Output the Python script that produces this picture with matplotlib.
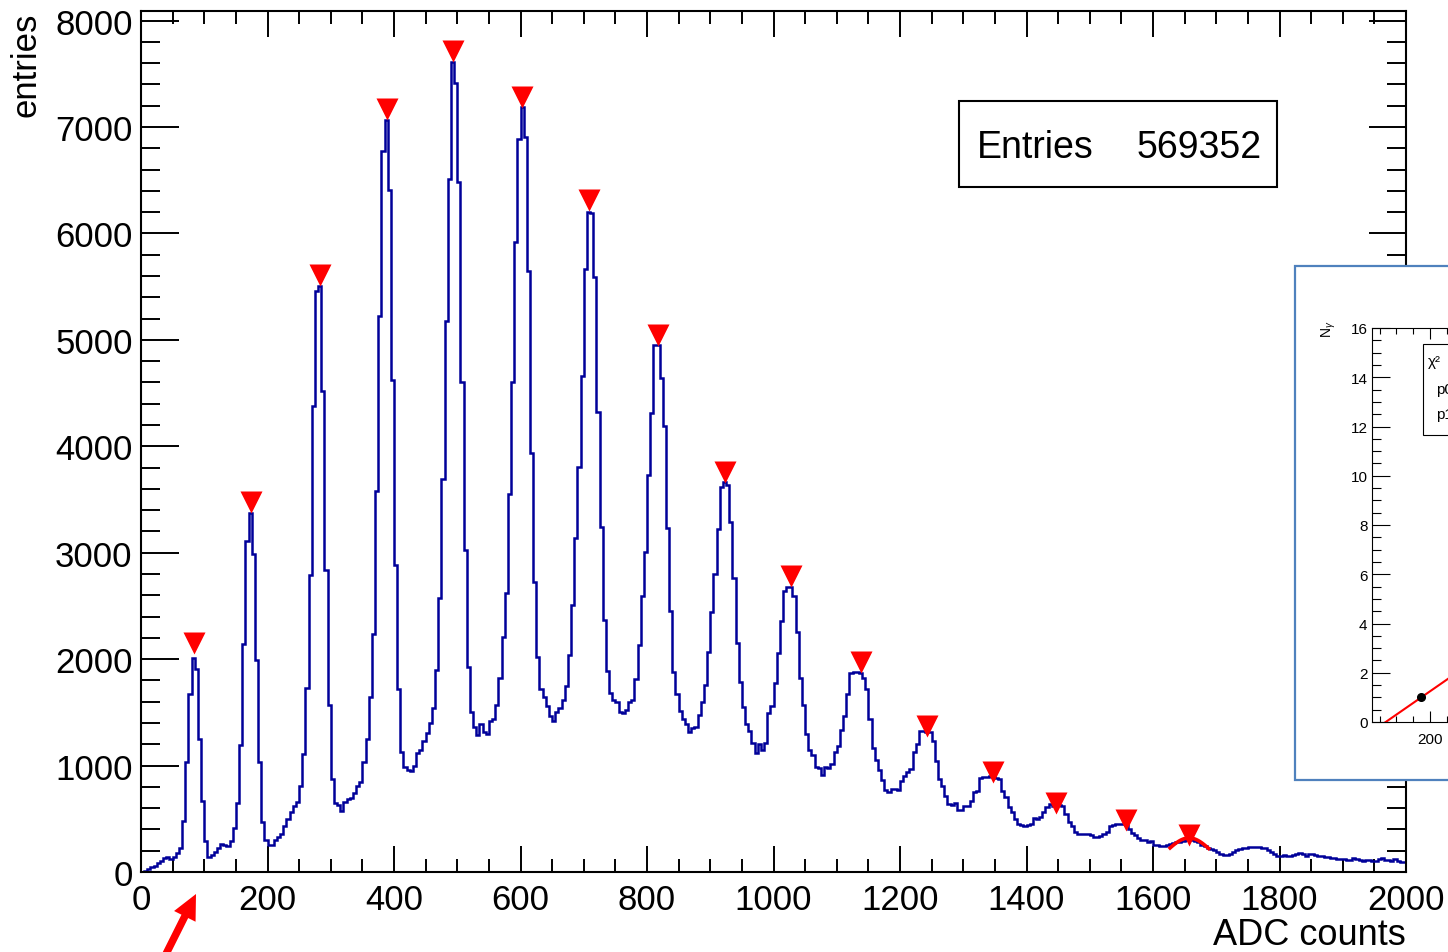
import numpy as np
import matplotlib
matplotlib.use("Agg")
import matplotlib.pyplot as plt
from matplotlib.patches import Rectangle, FancyArrow
from matplotlib.ticker import MultipleLocator, FixedLocator
from matplotlib.transforms import IdentityTransform

plt.rcParams["font.family"] = ["Liberation Sans", "DejaVu Sans"]
plt.rcParams["mathtext.fontset"] = "custom"
plt.rcParams["mathtext.rm"] = "Liberation Sans"
plt.rcParams["mathtext.it"] = "Liberation Sans:italic"

# ──────────────────────────────────────────────
# data
# ──────────────────────────────────────────────
BIN_WIDTH = 5          # ADC counts per bin, 400 bins from 0 to 2000
counts = [
    3, 12, 25, 45, 60, 80, 100, 130, 140, 125, 145, 175, 225, 480, 1035, 1670, 2010, 1910, 1245, 670, 295, 145,
    160, 185, 222, 262, 254, 248, 295, 410, 645, 1190, 2144, 3113, 3375, 2985, 1995, 1036, 470, 300, 255,
    255, 300, 330, 360, 430, 500, 560, 620, 660, 810, 1105, 1725, 2794, 4376, 5459, 5505,
    4515, 2840, 1567, 875, 650, 630, 577, 661, 686, 700, 740, 812, 850, 1031, 1251, 1643, 2238, 3577, 5227, 6773, 7065,
    6412, 4624, 2881, 1722, 1129, 990, 959, 948, 1000, 1119, 1144, 1232, 1309, 1397, 1541, 1902, 2572, 3691, 5175, 6515, 7615,
    7418, 6479, 4608, 3026, 1928, 1505, 1361, 1283, 1387, 1320, 1299, 1423, 1438, 1567, 1825, 2211, 2624, 3552, 4608, 5923, 6887, 7185,
    6902, 5649, 3938, 2727, 2021, 1722, 1644, 1557, 1464, 1423, 1505, 1541, 1619, 1747, 2041, 2505, 3139, 3809, 4660, 5665, 6205, 6195,
    5588, 4325, 3242, 2366, 1887, 1680, 1619, 1593, 1505, 1490, 1526, 1593, 1619, 1809, 2134, 2598, 3010, 3732, 4309, 4950,
    4950, 4639, 4187, 3231, 2457, 1883, 1675, 1511, 1442, 1390, 1320, 1355, 1362, 1477, 1598, 1755, 2067, 2439, 2797, 3224,
    3620, 3660, 3640, 3284, 2762, 2154, 1789, 1553, 1390, 1327, 1216, 1119, 1199, 1147, 1216, 1494, 1564, 1772, 2057, 2363, 2641, 2680, 2680,
    2589, 2258, 1824, 1571, 1293, 1147, 1101, 990, 980, 910, 990, 980, 1015, 1129, 1181, 1338, 1466, 1675, 1870, 1875,
    1875, 1870, 1824, 1720, 1442, 1164, 1049, 956, 869, 771, 754, 782, 782, 771, 851, 900, 940,
    969, 1132, 1204, 1329, 1329, 1320, 1320, 1235, 1047, 875,
    806, 718, 639, 630, 649, 586, 586, 624, 624, 671,
    749, 765, 881, 890, 890, 900, 897, 881, 875, 765,
    702, 608, 561, 498, 451, 445, 436, 442, 451, 505,
    498, 520, 561, 614, 639, 624, 639, 633, 624, 545,
    467, 429, 379, 357, 357, 357, 357, 351, 332, 326,
    342, 357, 380, 430, 440, 450, 450, 455, 440, 400,
    368, 350, 320, 300, 300, 285, 288, 250, 250, 245,
    242, 255, 262, 270, 278, 285, 292, 300, 305, 300, 292, 278, 258, 240, 228, 220, 205, 185, 170, 162, 160, 172, 190,
    210, 216, 223, 229, 232, 235, 238, 232, 223, 223,
    210, 191, 169, 147, 154, 160, 154, 147, 160, 166,
    179, 169, 154, 166, 169, 160, 154, 147, 138, 138,
    135, 129, 122, 122, 119, 116, 116, 129, 122, 110,
    107, 113, 116, 107, 107, 122, 129, 116, 110, 103,
    122, 107, 97, 91,
]

# peaks found (triangle markers)
peak_x = [83.8, 173.9, 283, 389, 493, 602, 708, 817, 923, 1028, 1138, 1243, 1347, 1447, 1558, 1657]
peak_y = [2150, 3480, 5610, 7170, 7715, 7285, 6310, 5050, 3760, 2780, 1975, 1370, 935, 648, 485, 352]

# gaussian drawn on the last peak
gaus_amp, gaus_mean, gaus_sigma = 320, 1657, 36
gaus_lo, gaus_hi = 1627, 1688

# inset: photon number vs peak position, with linear fit
n_gamma = [1, 2, 3, 4, 5, 6, 7, 8, 9, 10, 11, 12, 13, 14, 15]
fit_p0, fit_p1 = -0.64, 0.00943

n_entries = 569352

# ──────────────────────────────────────────────
# figure
# ──────────────────────────────────────────────
W, H = 1448, 953
fx = lambda px: px / W
fy = lambda py: 1 - py / H

fig = plt.figure(figsize=(W / 100, H / 100), dpi=100)
ax = fig.add_axes([fx(141), fy(873), (1406 - 141) / W, (873 - 12) / H])

edges = np.arange(len(counts) + 1) * BIN_WIDTH
ax.stairs(counts, edges, baseline=None, color="#000099", lw=1.8, zorder=2)

gx = np.linspace(gaus_lo, gaus_hi, 80)
ax.plot(gx, gaus_amp * np.exp(-0.5 * ((gx - gaus_mean) / gaus_sigma) ** 2),
        color="red", lw=2.6, zorder=3)
ax.plot(peak_x, peak_y, "v", color="red", ms=16, mec="none", zorder=4, clip_on=False)

ax.set_xlim(0, 2000)
ax.set_ylim(0, 8090)
ax.xaxis.set_major_locator(MultipleLocator(200))
ax.xaxis.set_minor_locator(MultipleLocator(50))
ax.yaxis.set_major_locator(MultipleLocator(1000))
ax.yaxis.set_minor_locator(MultipleLocator(200))
ax.tick_params(which="both", direction="in", top=True, right=True, width=1.4)
ax.tick_params(axis="x", which="major", length=18.7, labelsize=25, pad=8)
ax.tick_params(axis="x", which="minor", length=9.4)
ax.tick_params(axis="y", which="major", length=27, labelsize=25, pad=6)
ax.tick_params(axis="y", which="minor", length=13.5)
for s in ax.spines.values():
    s.set_linewidth(1.5)

fig.text(fx(1406), fy(945), "ADC counts", ha="right", va="baseline", size=26)
fig.text(fx(43), fy(13), "entries", rotation=90, ha="right", va="top", size=25)

# Entries box
fig.add_artist(Rectangle((fx(959), fy(188)), (1277 - 959) / W, (188 - 102) / H,
                         transform=fig.transFigure, fc="white", ec="black", lw=1.5, zorder=5))
fig.text(fx(977), fy(148), "Entries", ha="left", va="center", size=27, zorder=6)
fig.text(fx(1262), fy(148), f"{n_entries}", ha="right", va="center", size=27, zorder=6)

# ──────────────────────────────────────────────
# inset (cut by the right edge)
# ──────────────────────────────────────────────
fig.add_artist(Rectangle((fx(1295), fy(781)), (1470 - 1295) / W, (781 - 267) / H,
                         transform=fig.transFigure, fc="white", ec="#4f81bd", lw=1.6, zorder=3))
ins = fig.add_axes([fx(1371.7), fy(723), 596 / W, (723 - 329) / H], zorder=4)
ins.plot(peak_x[1:], n_gamma, "o", color="black", ms=5.5, zorder=3)
xl = np.array([26, 1805])
ins.plot(xl, fit_p0 + fit_p1 * xl, color="red", lw=1.5, zorder=2)
ins.set_xlim(26, 1805)
ins.set_ylim(0, 16)
# only the 200 label lies inside the picture
ins.xaxis.set_major_locator(FixedLocator([200]))
ins.xaxis.set_minor_locator(FixedLocator([50, 100, 150, 250]))
ins.yaxis.set_major_locator(MultipleLocator(2))
ins.yaxis.set_minor_locator(MultipleLocator(0.5))
ins.tick_params(which="both", direction="in", top=True, right=False, width=0.8, labelsize=11)
ins.tick_params(axis="x", which="major", length=8, pad=7)
ins.tick_params(axis="x", which="minor", length=4.3)
ins.tick_params(axis="y", which="major", length=12.7, pad=3)
ins.tick_params(axis="y", which="minor", length=6.5)
for s in ins.spines.values():
    s.set_linewidth(0.8)

fig.text(fx(1329), fy(320), r"N$_{\gamma}$", rotation=90, ha="center", va="top", size=10, zorder=6)
fig.add_artist(Rectangle((fx(1423.3), fy(435.7)), (1520 - 1423.3) / W, (435.7 - 345) / H,
                         transform=fig.transFigure, fc="white", ec="black", lw=0.8, zorder=5))
fig.text(fx(1428), fy(362), "χ²", ha="left", va="center", size=11, zorder=6)
fig.text(fx(1436), fy(390), "p0", ha="left", va="center", size=11, zorder=6)
fig.text(fx(1436), fy(415), "p1", ha="left", va="center", size=11, zorder=6)

# red arrow pointing at the pedestal peak
fig.add_artist(FancyArrow(163, -8, 33, 66, width=7.5, head_width=24, head_length=25,
                          length_includes_head=True, color="red", lw=0,
                          transform=IdentityTransform(), zorder=6))

fig.savefig("out.png", dpi=100)
